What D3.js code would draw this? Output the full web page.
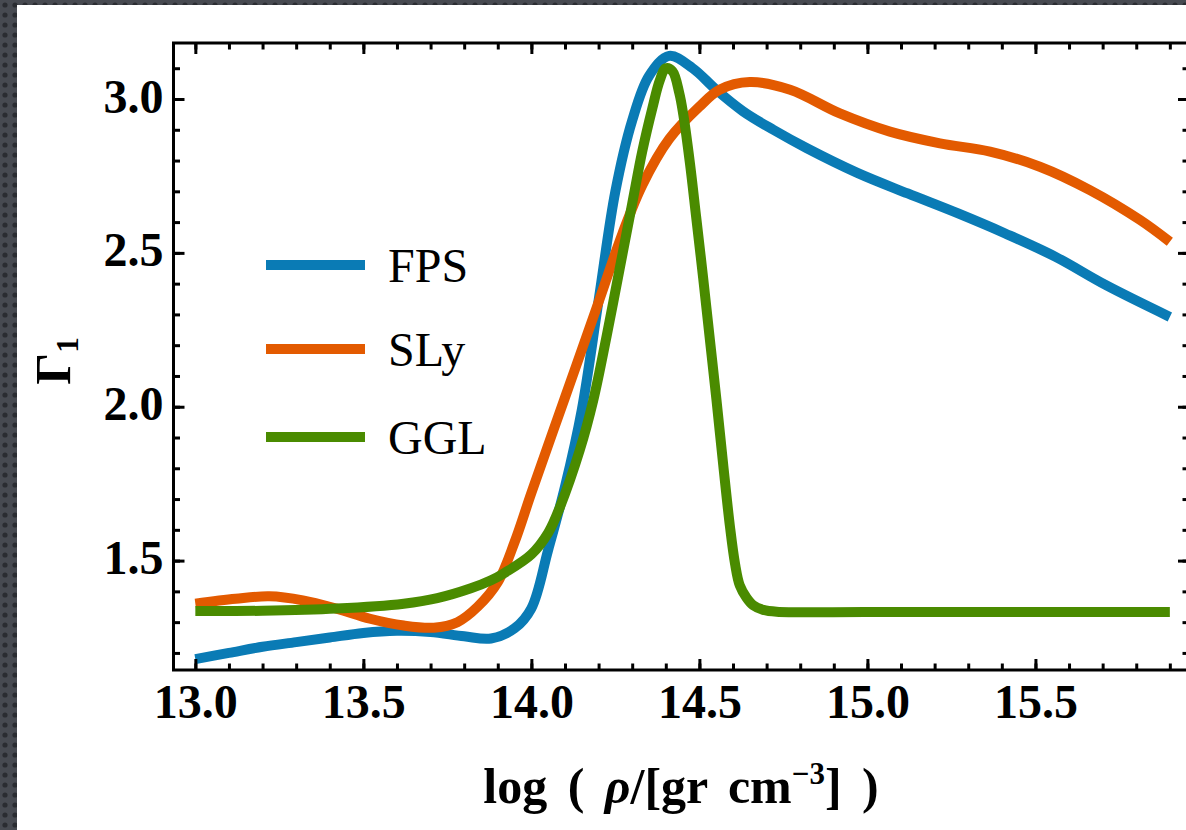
<!DOCTYPE html>
<html>
<head>
<meta charset="utf-8">
<script src="https://cdn.jsdelivr.net/npm/d3@7"></script>
<style>
  html, body { margin: 0; padding: 0; background: #3b3e44; overflow: hidden; }
  svg { display: block; }
</style>
</head>
<body>
<div id="chart"></div>
<script>
// ---------- data ----------
const seriesNames = ["FPS", "SLy", "GGL"];
const seriesColors = ["#0a7bb5", "#e35a00", "#4a8b00"];

const fpsX = [13.0, 13.1, 13.2, 13.3, 13.4, 13.5, 13.6, 13.7, 13.8, 13.88, 13.95, 14.0, 14.05, 14.1, 14.15, 14.2, 14.25, 14.3, 14.35, 14.41, 14.48, 14.55, 14.63, 14.72, 14.82, 14.97, 15.12, 15.27, 15.41, 15.56, 15.71, 15.9];
const fpsY = [1.18, 1.20, 1.22, 1.235, 1.25, 1.265, 1.272, 1.268, 1.254, 1.247, 1.28, 1.345, 1.535, 1.74, 1.99, 2.345, 2.70, 2.93, 3.075, 3.14, 3.10, 3.03, 2.96, 2.90, 2.84, 2.76, 2.693, 2.628, 2.563, 2.487, 2.395, 2.292];

const slyX = [13.0, 13.12, 13.22, 13.32, 13.42, 13.52, 13.62, 13.71, 13.78, 13.84, 13.9, 13.95, 14.0, 14.1, 14.2, 14.27, 14.33, 14.41, 14.5, 14.56, 14.65, 14.77, 14.918, 15.067, 15.216, 15.365, 15.513, 15.662, 15.811, 15.9];
const slyY = [1.36, 1.376, 1.384, 1.371, 1.344, 1.311, 1.289, 1.282, 1.30, 1.35, 1.43, 1.56, 1.72, 2.03, 2.34, 2.56, 2.72, 2.87, 2.975, 3.03, 3.055, 3.03, 2.953, 2.894, 2.856, 2.829, 2.78, 2.704, 2.607, 2.536];

const gglX = [13.0, 13.2, 13.42, 13.62, 13.72, 13.82, 13.88, 13.92, 14.0, 14.05, 14.085, 14.144, 14.184, 14.224, 14.263, 14.30, 14.33, 14.36, 14.382, 14.40, 14.42, 14.44, 14.452, 14.472, 14.49, 14.511, 14.531, 14.551, 14.571, 14.591, 14.606, 14.62, 14.64, 14.66, 14.69, 14.73, 15.0, 15.5, 15.9];
const gglY = [1.336, 1.337, 1.344, 1.36, 1.378, 1.41, 1.436, 1.46, 1.52, 1.59, 1.674, 1.859, 2.02, 2.23, 2.45, 2.66, 2.83, 2.97, 3.06, 3.10, 3.09, 3.02, 2.95, 2.79, 2.62, 2.42, 2.22, 2.02, 1.81, 1.61, 1.49, 1.42, 1.38, 1.355, 1.34, 1.334, 1.333, 1.333, 1.333];

const xMajorTicks = [13.0, 13.5, 14.0, 14.5, 15.0, 15.5];
const xMinorTicks = [13.0, 13.1, 13.2, 13.3, 13.4, 13.5, 13.6, 13.7, 13.8, 13.9, 14.0, 14.1, 14.2, 14.3, 14.4, 14.5, 14.6, 14.7, 14.8, 14.9, 15.0, 15.1, 15.2, 15.3, 15.4, 15.5, 15.6, 15.7, 15.8, 15.9];
const yMajorTicks = [1.5, 2.0, 2.5, 3.0];
const yMinorTicks = [1.2, 1.3, 1.4, 1.5, 1.6, 1.7, 1.8, 1.9, 2.0, 2.1, 2.2, 2.3, 2.4, 2.5, 2.6, 2.7, 2.8, 2.9, 3.0, 3.1];

const xDomain = [12.935, 15.957];
const yDomain = [1.1445, 3.182];

(function () {
// ---------- layout ----------
const W = 1186, H = 830;
const pLeft = 173.5, pRight = 1189, pTop = 43, pBottom = 670;

const svg = d3.select("#chart").append("svg").attr("width", W).attr("height", H);

// textured dark background
const defs = svg.append("defs");
const pat = defs.append("pattern").attr("id", "dots").attr("width", 10).attr("height", 10)
  .attr("patternUnits", "userSpaceOnUse");
pat.append("rect").attr("width", 10).attr("height", 10).attr("fill", "#474a51");
pat.append("circle").attr("cx", 5).attr("cy", 5).attr("r", 2.6).attr("fill", "#2a2c31");
svg.append("rect").attr("width", W).attr("height", H).attr("fill", "url(#dots)");
svg.append("rect").attr("x", 17).attr("y", 5).attr("width", W - 17).attr("height", H - 5).attr("fill", "#ffffff");

const x = d3.scaleLinear().domain(xDomain).range([pLeft, pRight]);
const y = d3.scaleLinear().domain(yDomain).range([pBottom, pTop]);

const fontSerif = "'Liberation Serif', 'Times New Roman', serif";

// ---------- curves ----------
const series = [
  { name: seriesNames[0], color: seriesColors[0], xs: fpsX, ys: fpsY },
  { name: seriesNames[1], color: seriesColors[1], xs: slyX, ys: slyY },
  { name: seriesNames[2], color: seriesColors[2], xs: gglX, ys: gglY }
];
const line = d3.line().x(d => x(d[0])).y(d => y(d[1])).curve(d3.curveCatmullRom.alpha(0.5));

const plot = svg.append("g");
series.forEach(s => {
  const pts = s.xs.map((v, i) => [v, s.ys[i]]);
  plot.append("path").datum(pts)
    .attr("d", line)
    .attr("fill", "none")
    .attr("stroke", s.color)
    .attr("stroke-width", 10)
    .attr("stroke-linejoin", "round")
    .attr("stroke-linecap", "butt");
});

// ---------- axes (ticks inward) ----------
function styleAxis(g) {
  g.select(".domain").remove();
  g.selectAll(".tick line").attr("stroke", "#000").attr("stroke-width", 3);
}
const majorLen = 11, minorLen = 6.5;

// bottom
svg.append("g").attr("transform", `translate(0,${pBottom})`)
  .call(d3.axisBottom(x).tickValues(xMinorTicks).tickSize(-minorLen).tickFormat(""))
  .call(styleAxis);
const xb = svg.append("g").attr("transform", `translate(0,${pBottom})`)
  .call(d3.axisBottom(x).tickValues(xMajorTicks).tickSize(-majorLen).tickFormat(d3.format(".1f")))
  .call(styleAxis);
xb.selectAll(".tick text")
  .attr("y", 48).attr("dy", 0)
  .attr("font-family", fontSerif).attr("font-weight", "bold").attr("font-size", 48).attr("fill", "#000");

// top
svg.append("g").attr("transform", `translate(0,${pTop})`)
  .call(d3.axisTop(x).tickValues(xMinorTicks).tickSize(-minorLen).tickFormat(""))
  .call(styleAxis);
svg.append("g").attr("transform", `translate(0,${pTop})`)
  .call(d3.axisTop(x).tickValues(xMajorTicks).tickSize(-majorLen).tickFormat(""))
  .call(styleAxis);

// left
svg.append("g").attr("transform", `translate(${pLeft},0)`)
  .call(d3.axisLeft(y).tickValues(yMinorTicks).tickSize(-minorLen).tickFormat(""))
  .call(styleAxis);
const yl = svg.append("g").attr("transform", `translate(${pLeft},0)`)
  .call(d3.axisLeft(y).tickValues(yMajorTicks).tickSize(-majorLen).tickFormat(d3.format(".1f")))
  .call(styleAxis);
yl.selectAll(".tick text")
  .attr("x", -10).attr("dy", 0).attr("y", 13)
  .attr("text-anchor", "end")
  .attr("font-family", fontSerif).attr("font-weight", "bold").attr("font-size", 48).attr("fill", "#000");

// right
svg.append("g").attr("transform", `translate(${pRight},0)`)
  .call(d3.axisRight(y).tickValues(yMinorTicks).tickSize(-minorLen).tickFormat(""))
  .call(styleAxis);
svg.append("g").attr("transform", `translate(${pRight},0)`)
  .call(d3.axisRight(y).tickValues(yMajorTicks).tickSize(-majorLen).tickFormat(""))
  .call(styleAxis);

// frame
svg.append("rect")
  .attr("x", pLeft).attr("y", pTop)
  .attr("width", pRight - pLeft).attr("height", pBottom - pTop)
  .attr("fill", "none").attr("stroke", "#000").attr("stroke-width", 3);

// ---------- legend ----------
const legendY = [265, 349, 437];
const leg = svg.append("g");
series.forEach((s, i) => {
  leg.append("line")
    .attr("x1", 266).attr("x2", 365)
    .attr("y1", legendY[i]).attr("y2", legendY[i])
    .attr("stroke", s.color).attr("stroke-width", 10);
  leg.append("text")
    .attr("x", 388).attr("y", legendY[i] + 17)
    .attr("font-family", fontSerif).attr("font-size", 48).attr("fill", "#000")
    .text(s.name);
});

// ---------- axis titles ----------
const xt = svg.append("text")
  .attr("x", 681).attr("y", 803)
  .attr("text-anchor", "middle")
  .attr("font-family", fontSerif).attr("font-weight", "bold").attr("font-size", 50).attr("fill", "#000")
  .attr("word-spacing", 8)
  .style("white-space", "pre");
xt.append("tspan").text("log ( ");
xt.append("tspan").attr("font-style", "italic").text("ρ");
xt.append("tspan").text("/[gr cm");
xt.append("tspan").attr("font-size", 31).attr("dy", -19).text("−3");
xt.append("tspan").attr("dy", 19).text("] )");

const yt = svg.append("text")
  .attr("transform", "translate(70,361) rotate(-90)")
  .attr("text-anchor", "middle")
  .attr("font-family", fontSerif).attr("font-weight", "bold").attr("font-size", 50).attr("fill", "#000");
yt.append("tspan").text("Γ");
yt.append("tspan").attr("font-size", 31).attr("dy", 8).text("1");
})();
</script>
</body>
</html>
